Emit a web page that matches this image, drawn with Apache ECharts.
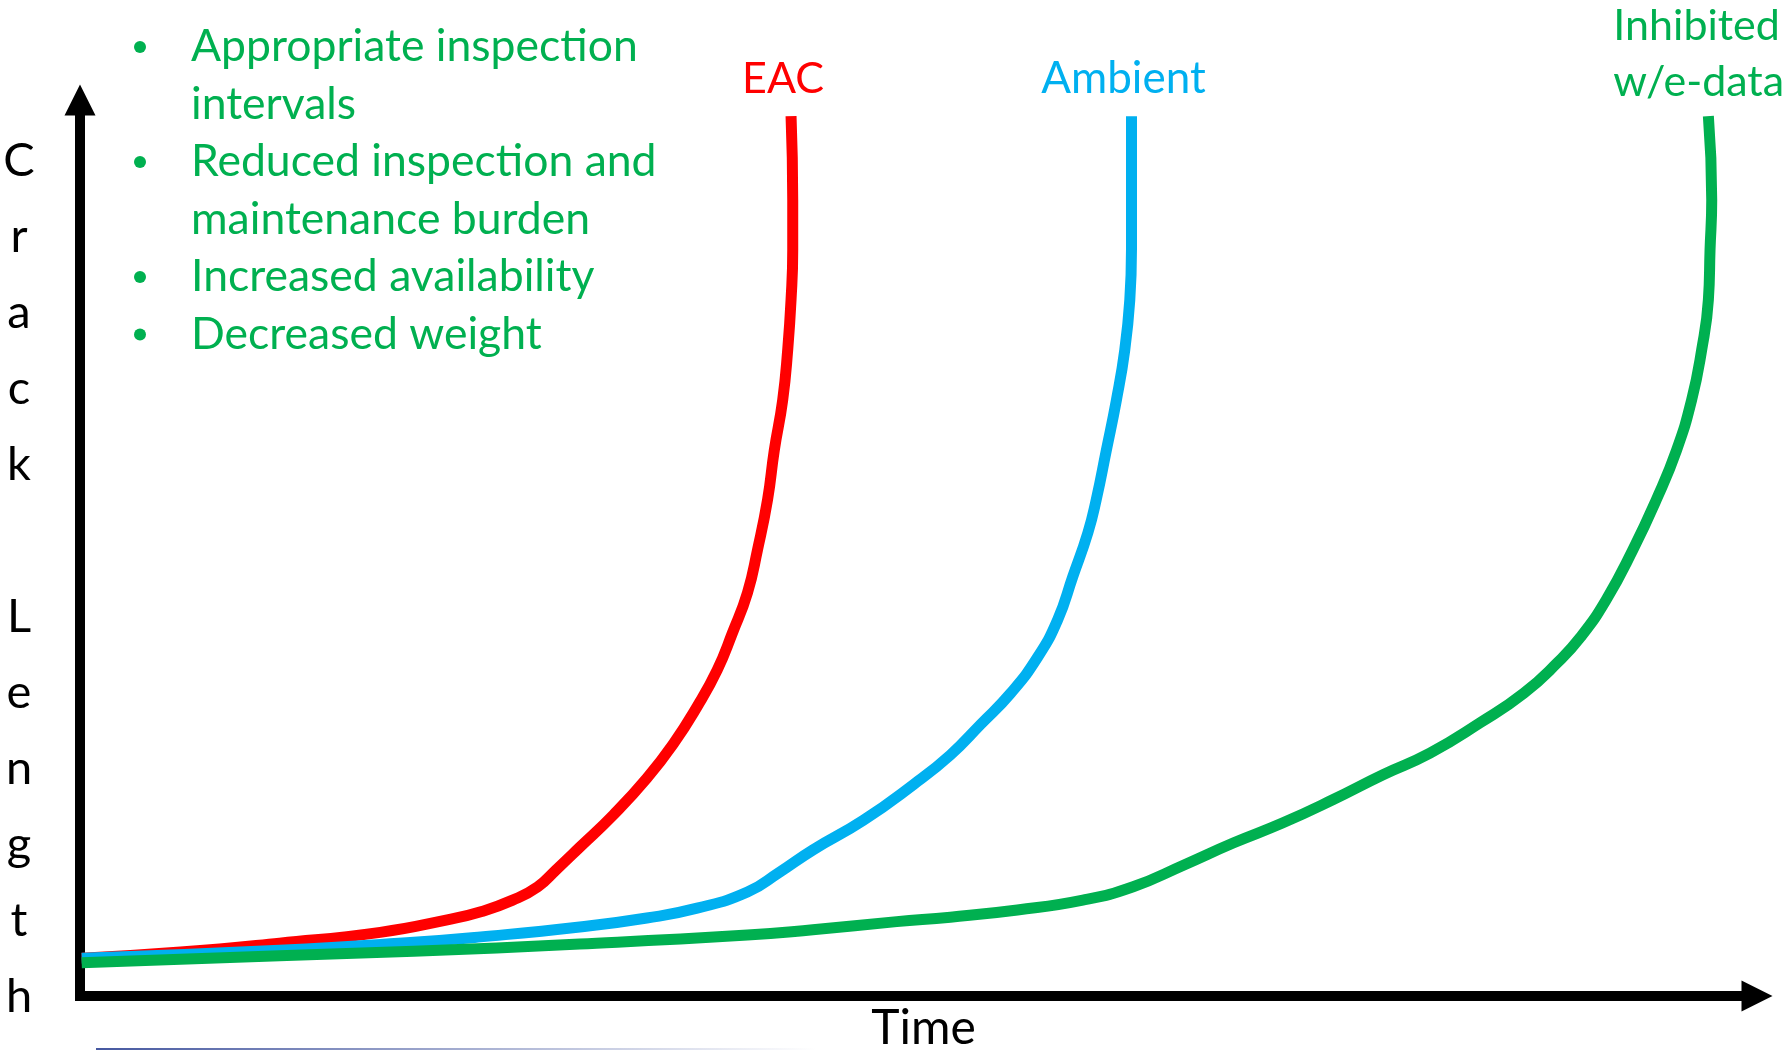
<!DOCTYPE html>
<html>
<head>
<meta charset="utf-8">
<script src="https://cdn.jsdelivr.net/npm/echarts@6/dist/echarts.min.js"></script>
<style>
html,body{margin:0;padding:0;background:#ffffff;}
#chart{width:1787px;height:1050px;}
</style>
</head>
<body>
<div id="chart"></div>
<script>
// ---- data (arbitrary units 0-100) ----
const seriesNames = ['EAC', 'Ambient', 'Inhibited\nw/e-data'];

const eacTime   = [0.1, 6.0, 11.9, 17.9, 21.9, 23.9, 25.8, 27.3, 28.4, 29.8, 31.8, 33.8, 35.4, 36.8, 38.0, 38.9, 39.8, 40.4, 41.0, 41.4, 41.9, 42.2, 42.4, 42.5, 42.5, 42.4];
const eacLength = [4.2, 4.9, 5.9, 7.1, 8.5, 9.4, 10.7, 12.2, 14.1, 16.6, 20.2, 24.3, 28.2, 32.3, 36.4, 40.5, 45.0, 49.8, 55.4, 60.9, 66.5, 72.1, 77.7, 83.3, 88.8, 98.2];

const ambientTime   = [0.1, 11.9, 19.9, 23.9, 29.8, 33.8, 36.8, 39.8, 41.7, 43.7, 46.7, 49.7, 51.9, 53.7, 55.5, 57.1, 58.3, 59.2, 60.1, 60.6, 61.2, 61.8, 62.3, 62.6, 62.7, 62.7, 62.7];
const ambientLength = [4.2, 5.1, 6.0, 6.6, 7.7, 8.7, 9.8, 11.6, 13.8, 16.3, 19.6, 23.6, 26.9, 30.3, 33.8, 37.8, 42.0, 46.8, 51.7, 55.4, 60.9, 66.5, 72.1, 77.7, 83.3, 88.8, 98.2];

const inhibitedTime   = [0.1, 11.9, 19.9, 29.8, 39.8, 43.7, 48.7, 51.9, 55.9, 59.8, 62.8, 65.8, 68.8, 71.7, 74.7, 77.7, 80.5, 83.5, 86.1, 88.1, 89.5, 91.0, 92.6, 94.0, 95.2, 96.1, 96.7, 97.1, 97.2, 97.3, 97.1];
const inhibitedLength = [3.7, 4.5, 5.0, 5.8, 6.8, 7.4, 8.3, 8.8, 9.6, 10.7, 12.2, 14.6, 17.1, 19.3, 21.9, 24.7, 27.1, 30.5, 33.8, 37.2, 40.1, 44.2, 49.8, 55.4, 60.9, 66.5, 72.1, 77.7, 83.3, 88.8, 98.2];

const benefits = [
  'Appropriate inspection\nintervals',
  'Reduced inspection and\nmaintenance burden',
  'Increased availability',
  'Decreased weight'
];
const xAxisName = 'Time';
const yAxisName = 'Crack Length';

// ---- styling ----
const COLORS = ['#FF0000', '#00B0F0', '#00B050'];
const FONT = 'Lato';
const LINE_W = 11;

function zip(xs, ys) { return xs.map((x, i) => [x, ys[i]]); }

const curves = [zip(eacTime, eacLength), zip(ambientTime, ambientLength), zip(inhibitedTime, inhibitedLength)];

const labelCfg = [
  { position: 'top', distance: 9, offset: [-8, 0], align: 'center', size: 43 },
  { position: 'top', distance: 9, offset: [-8, 0], align: 'center', size: 44 },
  { position: 'top', distance: 6, offset: [-95, 0], align: 'left', size: 43 }
];

const series = curves.map((pts, s) => {
  const data = pts.map((p, i) => {
    if (i !== pts.length - 1) return { value: p };
    return {
      value: p,
      label: {
        show: true,
        position: labelCfg[s].position,
        distance: labelCfg[s].distance,
        offset: labelCfg[s].offset,
        align: labelCfg[s].align,
        formatter: seriesNames[s],
        color: COLORS[s],
        fontFamily: FONT,
        fontSize: labelCfg[s].size,
        lineHeight: 56
      }
    };
  });
  return {
    name: seriesNames[s],
    type: 'line',
    data: data,
    smooth: 0.5,
    symbol: 'circle',
    symbolSize: 0,
    showSymbol: true,
    showAllSymbol: true,
    silent: true,
    lineStyle: { color: COLORS[s], width: LINE_W, cap: 'butt', join: 'round' },
    itemStyle: { color: COLORS[s] },
    z: 2 + s
  };
});

// bullet list graphics
const LIST_LINE_H = 57.5;
const LIST_TOP = 18;
const graphics = [];
let line = 0;
benefits.forEach((txt) => {
  graphics.push({
    type: 'circle',
    shape: { cx: 140, cy: 47 + line * LIST_LINE_H, r: 6 },
    style: { fill: '#00B050' },
    silent: true
  });
  graphics.push({
    type: 'text',
    x: 191,
    y: LIST_TOP + line * LIST_LINE_H,
    style: {
      text: txt,
      fill: '#00B050',
      font: '44.5px ' + FONT,
      lineHeight: LIST_LINE_H,
      align: 'left',
      verticalAlign: 'top'
    },
    silent: true
  });
  line += txt.split('\n').length;
});
// faint slide rule at the bottom
graphics.push({
  type: 'rect',
  shape: { x: 96, y: 1048, width: 720, height: 2 },
  style: {
    fill: new echarts.graphic.LinearGradient(0, 0, 1, 0, [
      { offset: 0, color: 'rgba(70,88,160,1)' },
      { offset: 1, color: 'rgba(70,88,160,0)' }
    ])
  },
  silent: true
});

const axisLineCommon = {
  show: true,
  onZero: false,
  symbol: ['none', 'triangle'],
  symbolSize: [31, 31],
  lineStyle: { color: '#000000', width: 10, cap: 'square' }
};

// vertical axis title: one letter per line, with a small spacer line on top
const yNameText = '{s| }\n' + yAxisName.split('').join('\n');

const chart = echarts.init(document.getElementById('chart'), null, { renderer: 'canvas' });
chart.setOption({
  backgroundColor: '#ffffff',
  animation: false,
  grid: { left: 80, right: 30, top: 100, bottom: 54, containLabel: false, outerBoundsMode: 'none' },
  xAxis: {
    type: 'value', min: 0, max: 100,
    axisLine: axisLineCommon,
    axisTick: { show: false }, axisLabel: { show: false }, splitLine: { show: false },
    name: xAxisName, nameLocation: 'middle', nameGap: 9,
    nameTextStyle: { fontFamily: FONT, fontSize: 48, color: '#000000', verticalAlign: 'top', padding: [0, 0, 0, 10] }
  },
  yAxis: {
    type: 'value', min: 0, max: 100,
    axisLine: axisLineCommon,
    axisTick: { show: false }, axisLabel: { show: false }, splitLine: { show: false },
    name: yNameText, nameLocation: 'middle', nameRotate: 0, nameGap: 61,
    nameTextStyle: {
      fontFamily: FONT, fontSize: 47, color: '#000000', align: 'center', verticalAlign: 'middle', lineHeight: 76,
      rich: { s: { fontSize: 10, lineHeight: 62 } }
    }
  },
  graphic: graphics,
  series: series
});
</script>
</body>
</html>
